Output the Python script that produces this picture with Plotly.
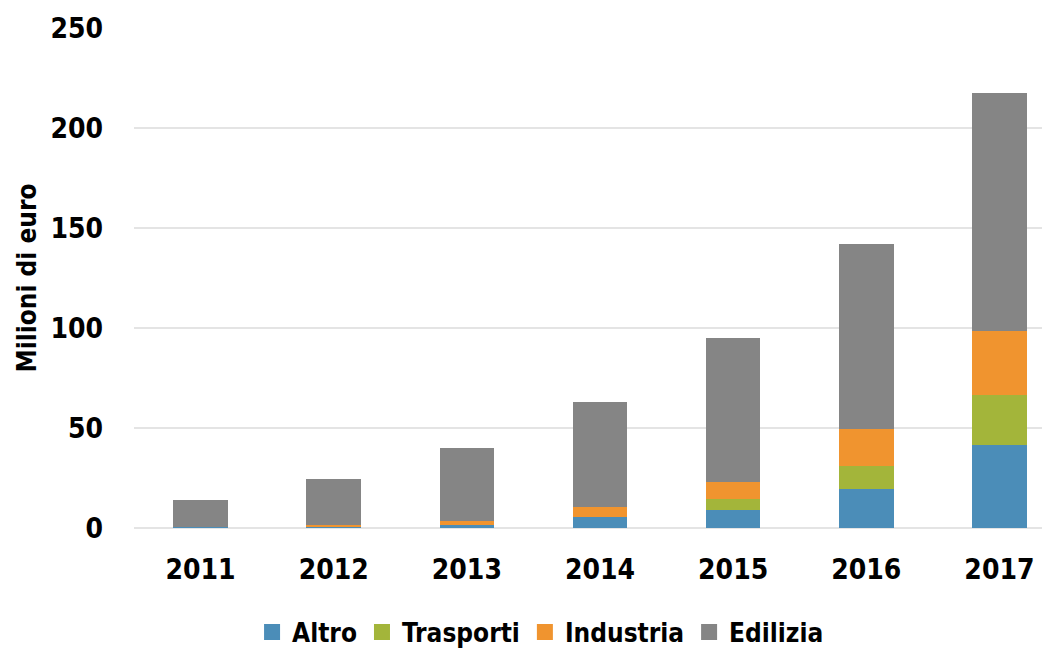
import plotly.graph_objects as go

years = ["2011", "2012", "2013", "2014", "2015", "2016", "2017"]
altro = [0.3, 0.3, 1.5, 5.5, 9.0, 19.5, 41.5]
trasporti = [0.0, 0.0, 0.0, 0.0, 5.5, 11.7, 25.0]
industria = [0.0, 1.2, 2.0, 5.0, 8.5, 18.5, 32.0]
edilizia = [13.7, 23.0, 36.5, 52.5, 72.0, 92.5, 119.0]

series = [
    ("Altro", altro, "#4b8db8"),
    ("Trasporti", trasporti, "#a3b53a"),
    ("Industria", industria, "#f0942f"),
    ("Edilizia", edilizia, "#858585"),
]

FONT = "DejaVu Sans Condensed, DejaVu Sans, sans-serif"

fig = go.Figure()
for name, vals, col in series:
    fig.add_trace(go.Bar(
        x=years, y=vals, name=name, showlegend=False,
        marker=dict(color=col, line=dict(width=0)),
        width=0.41,
    ))
# legend entries with larger square symbols
for name, vals, col in series:
    fig.add_trace(go.Scatter(
        x=[None], y=[None], name=name, mode="markers",
        marker=dict(symbol="square", size=16, color=col),
    ))

fig.update_layout(
    barmode="stack",
    width=1050, height=648,
    paper_bgcolor="white", plot_bgcolor="white",
    margin=dict(l=126, r=0, t=20, b=128, autoexpand=False),
    font=dict(family=FONT, color="black", size=28),
    xaxis=dict(
        type="category", range=[-0.5, 6.44], automargin=False,
        showgrid=False, showline=False, ticks="", ticklabelstandoff=22,
        tickfont=dict(family=FONT, size=28, color="black", weight="bold"),
    ),
    yaxis=dict(
        range=[0, 250], dtick=50, automargin=False,
        showgrid=True, gridcolor="#e4e4e4", gridwidth=2,
        zeroline=True, zerolinecolor="#e4e4e4", zerolinewidth=2,
        showline=False, ticks="", ticklabelstandoff=30,
        tickfont=dict(family=FONT, size=28, color="black", weight="bold"),
        title=dict(text="Milioni di euro", standoff=6,
                   font=dict(family=FONT, size=26, color="black", weight="bold")),
    ),
    legend=dict(
        orientation="h", x=0.44, xanchor="center", y=-0.208, yanchor="middle",
        font=dict(family=FONT, size=26, color="black", weight="bold"),
        traceorder="normal", itemwidth=30, itemsizing="trace",
    ),
    bargap=0.59,
)

fig.write_html("out.html")
